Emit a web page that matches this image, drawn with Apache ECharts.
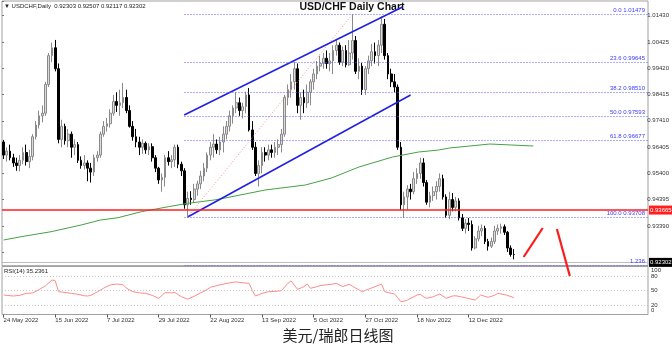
<!DOCTYPE html>
<html><head><meta charset="utf-8">
<script src="https://cdn.jsdelivr.net/npm/echarts@6/dist/echarts.min.js"></script>
<style>html,body{margin:0;padding:0;background:#fff}#c{width:672px;height:347px}</style>
</head><body><div id="c"></div>
<script>
// ---------- DATA ----------
const firstDate = '2022-05-24';
// [open, close, low, high] per trading day
const ohlc = [
[0.9660,0.9610,0.9595,0.9668],[0.9610,0.9625,0.9585,0.9640],[0.9625,0.9600,0.9590,0.9650],[0.9600,0.9580,0.9565,0.9615],
[0.9580,0.9570,0.9550,0.9600],[0.9570,0.9590,0.9548,0.9610],[0.9590,0.9620,0.9575,0.9640],[0.9620,0.9585,0.9570,0.9650],
[0.9585,0.9605,0.9560,0.9630],[0.9605,0.9680,0.9590,0.9690],[0.9680,0.9725,0.9670,0.9740],[0.9725,0.9760,0.9712,0.9780],
[0.9760,0.9770,0.9735,0.9800],[0.9770,0.9880,0.9760,0.9890],[0.9880,0.9990,0.9870,1.0000],[0.9990,1.0020,0.9965,1.0040],
[1.0020,0.9940,0.9930,1.0050],[0.9940,0.9670,0.9655,0.9960],[0.9670,0.9720,0.9640,0.9745],[0.9720,0.9665,0.9650,0.9730],
[0.9665,0.9690,0.9640,0.9710],[0.9690,0.9640,0.9600,0.9700],[0.9640,0.9650,0.9610,0.9670],[0.9650,0.9590,0.9580,0.9660],
[0.9590,0.9570,0.9558,0.9605],[0.9570,0.9580,0.9555,0.9610],[0.9580,0.9560,0.9510,0.9590],[0.9560,0.9545,0.9505,0.9580],
[0.9545,0.9600,0.9530,0.9612],[0.9600,0.9610,0.9585,0.9625],[0.9610,0.9690,0.9600,0.9700],[0.9690,0.9720,0.9680,0.9740],
[0.9720,0.9730,0.9700,0.9752],[0.9730,0.9770,0.9715,0.9785],[0.9770,0.9815,0.9760,0.9840],[0.9815,0.9800,0.9775,0.9850],
[0.9800,0.9810,0.9760,0.9860],[0.9810,0.9830,0.9790,0.9886],[0.9830,0.9780,0.9770,0.9860],[0.9780,0.9720,0.9715,0.9800],
[0.9720,0.9680,0.9665,0.9740],[0.9680,0.9660,0.9640,0.9710],[0.9660,0.9640,0.9610,0.9680],[0.9640,0.9655,0.9615,0.9670],
[0.9655,0.9630,0.9615,0.9662],[0.9630,0.9642,0.9610,0.9655],[0.9642,0.9600,0.9585,0.9655],[0.9600,0.9560,0.9545,0.9610],
[0.9560,0.9515,0.9500,0.9565],[0.9515,0.9525,0.9470,0.9540],[0.9525,0.9600,0.9490,0.9610],[0.9600,0.9585,0.9570,0.9625],
[0.9585,0.9592,0.9560,0.9610],[0.9592,0.9640,0.9565,0.9650],[0.9640,0.9575,0.9560,0.9650],[0.9575,0.9550,0.9530,0.9585],
[0.9550,0.9420,0.9405,0.9560],[0.9420,0.9445,0.93708,0.9470],[0.9445,0.9440,0.9420,0.9472],[0.9440,0.9480,0.9430,0.9500],
[0.9480,0.9500,0.9455,0.9512],[0.9500,0.9530,0.9480,0.9550],[0.9530,0.9560,0.9510,0.9580],[0.9560,0.9610,0.9545,0.9620],
[0.9610,0.9640,0.9590,0.9660],[0.9640,0.9652,0.9600,0.9690],[0.9652,0.9630,0.9615,0.9670],[0.9630,0.9660,0.9610,0.9680],
[0.9660,0.9690,0.9620,0.9720],[0.9690,0.9720,0.9670,0.9740],[0.9720,0.9760,0.9700,0.9780],[0.9760,0.9790,0.9730,0.9800],
[0.9790,0.9810,0.9770,0.9850],[0.9810,0.9780,0.9760,0.9830],[0.9780,0.9795,0.9750,0.9810],[0.9795,0.9840,0.9770,0.9852],
[0.9840,0.9706,0.9700,0.9866],[0.9706,0.9640,0.9630,0.9740],[0.9640,0.9540,0.9530,0.9660],[0.9540,0.9570,0.9490,0.9590],
[0.9570,0.9620,0.9540,0.9640],[0.9620,0.9610,0.9585,0.9640],[0.9610,0.9630,0.9590,0.9650],[0.9630,0.9620,0.9600,0.9650],
[0.9620,0.9640,0.9600,0.9660],[0.9640,0.9650,0.9610,0.9670],[0.9650,0.9690,0.9620,0.9710],[0.9690,0.9830,0.9680,0.9840],
[0.9830,0.9860,0.9800,0.9880],[0.9860,0.9890,0.9830,0.9920],[0.9890,0.9940,0.9860,0.9966],[0.9940,0.9800,0.9770,0.9960],
[0.9800,0.9830,0.9745,0.9850],[0.9830,0.9810,0.9770,0.9860],[0.9810,0.9850,0.9790,0.9880],[0.9850,0.9890,0.9800,0.9900],
[0.9890,0.9920,0.9860,0.9940],[0.9920,0.9950,0.9900,0.9970],[0.9950,0.9960,0.9930,0.9990],[0.9960,0.9980,0.9940,1.0000],
[0.9980,0.9960,0.9940,1.0010],[0.9960,0.9970,0.9930,1.0000],[0.9970,1.0010,0.9920,1.0030],[1.0010,1.0030,0.9990,1.0050],
[1.0030,0.9965,0.9955,1.0040],[0.9965,1.0010,0.9950,1.0025],[1.0010,0.9955,0.9945,1.0030],[0.9955,1.0000,0.9950,1.0050],
[1.0000,1.0048,0.9975,1.01479],[1.0048,0.9930,0.9920,1.0065],[0.9930,0.9950,0.9900,0.9980],[0.9950,0.9860,0.9840,0.9962],
[0.9860,0.9940,0.9840,0.9950],[0.9940,0.9970,0.9920,0.9990],[0.9970,1.0005,0.9950,1.0035],[1.0005,0.9990,0.9960,1.0040],
[0.9990,1.0030,0.9950,1.0050],[1.0030,1.0110,1.0000,1.0140],[1.0110,0.9990,0.9975,1.0130],[0.9990,0.9920,0.9900,1.0000],
[0.9920,0.9890,0.9870,0.9940],[0.9890,0.9870,0.9850,0.9920],[0.9870,0.9640,0.9630,0.9880],[0.9640,0.9420,0.9400,0.9660],
[0.9420,0.9450,0.9370,0.9470],[0.9450,0.9480,0.9400,0.9495],[0.9480,0.9470,0.9440,0.9500],[0.9470,0.9520,0.9460,0.9545],
[0.9520,0.9540,0.9500,0.9560],[0.9540,0.9580,0.9520,0.9600],[0.9580,0.9505,0.9490,0.9598],[0.9505,0.9430,0.9420,0.9515],
[0.9430,0.9455,0.9410,0.9470],[0.9455,0.9470,0.9435,0.9490],[0.9470,0.9490,0.9440,0.9510],[0.9490,0.9520,0.9470,0.9540],
[0.9520,0.9450,0.9440,0.9535],[0.9450,0.9380,0.9370,0.9460],[0.9380,0.9440,0.9365,0.9470],[0.9440,0.9410,0.9395,0.9465],
[0.9410,0.9435,0.9395,0.9450],[0.9435,0.9370,0.9360,0.9445],[0.9370,0.9330,0.9320,0.9385],[0.9330,0.9350,0.9310,0.9365],
[0.9350,0.9345,0.9320,0.9370],[0.9345,0.9255,0.9245,0.9360],[0.9255,0.9290,0.9250,0.9300],[0.9290,0.9320,0.9280,0.9340],
[0.9320,0.9330,0.9300,0.9345],[0.9330,0.9280,0.9270,0.9340],[0.9280,0.9262,0.9245,0.9290],[0.9262,0.9280,0.9255,0.9295],
[0.9280,0.9320,0.9270,0.9340],[0.9320,0.9330,0.9305,0.9345],[0.9330,0.9336,0.9310,0.9348],[0.9336,0.9315,0.9305,0.9345],
[0.9315,0.9255,0.9240,0.9320],[0.9255,0.9230,0.9222,0.9265],[0.92303,0.92302,0.92117,0.92507]
];
// 200-day moving average, [bar index, value]
const maPoints = [[0,0.92855],[5.4,0.92981],[14.7,0.93172],[24,0.93428],[30,0.93619],[35.4,0.93707],[42.6,0.93936],
[51,0.94127],[57,0.94257],[65.2,0.94384],[68.6,0.94460],[81,0.94766],[93.4,0.94957],[101.5,0.95224],[110,0.95644],
[120.4,0.96027],[128.5,0.96218],[134.7,0.96294],[138,0.96370],[150.5,0.96523],[157.3,0.96485],[164,0.96447]];
// RSI(14), [bar index, value]
const rsiPoints = [[0,40.6],[3,38.5],[5,40],[7,44],[9,45],[11,52],[13,60],[15,72],[16,70],[17,47.5],[19,46],[21,44],
[23,42],[25,39],[26,38.5],[27,40],[29,47],[31,55],[33,61.5],[35,63.5],[37,62],[38,55],[40,47.5],[42,45],[44,44],[46,40],
[48,33.7],[50,45.5],[52,45],[53,46],[55,37],[57,32],[59,38],[61,45],[63,52],[64,56.5],[67,62],[70,66],[72,68],[74,66],
[76,65],[77,50],[78,38.5],[80,44],[82,47.5],[84,48],[86,49.6],[88,65],[89,70],[91,52.5],[93,58],[94,63.5],[95,54.6],
[97,58],[98,60],[100,62],[102,63.5],[103,65],[105,58],[107,63],[108,59],[109,55],[111,47.5],[113,53],[115,58],
[117,63.5],[118,47.5],[120,44],[121,43],[122,35],[123,26.7],[124,28],[125,30],[127,37],[128,40.6],[129,42],[130,37],
[131,33.7],[133,37],[135,42.7],[137,33.7],[139,38.5],[140,39],[141.5,37],[143.7,33.7],[146,30],[147.7,40.6],[150,35.8],
[152,40],[153,44],[155.6,40.6],[158,35.24]];
const rsiLevels = [20, 50, 80];
const rsiTickLabels = [0, 20, 50, 80, 100];
const fibNames = ['0.0','23.6','38.2','50.0','61.8','100.0','1.236'];
const fibValues = [1.01479, 0.99645, 0.98510, 0.97593, 0.96677, 0.93708, 0.91874];
const fibLow = [56.8, 0.93708];
const fibHigh = [108, 1.01479];
const upperChannel = [[55.9, 0.97632], [123.5, 1.01758]];
const lowerChannel = [[57.1, 0.93745], [126, 0.98396]];
const arrowUp = [[161, 0.92205], [166.9, 0.93314]];
const arrowDown = [[171.3, 0.93275], [175.3, 0.91479]];
const supportLevel = 0.93665;
const lastPrice = 0.92302;
const priceTickStart = 0.92385, priceTickStep = 0.01005;
const dateLabelEvery = 16, lastDateLabel = 144;

// ---------- BUILD ----------
const N = 200;
const PMIN = 0.91874, PMAX = 1.01988, PXU = 2617;
const MONTHS = ['Jan','Feb','Mar','Apr','May','Jun','Jul','Aug','Sep','Oct','Nov','Dec'];
const cats = [];
let d = new Date(firstDate + 'T00:00:00Z');
while (cats.length < ohlc.length) {
  const wd = d.getUTCDay();
  if (wd !== 0 && wd !== 6) cats.push(d.getUTCDate() + ' ' + MONTHS[d.getUTCMonth()] + ' ' + d.getUTCFullYear());
  d = new Date(d.getTime() + 86400000);
}
while (cats.length < N) cats.push('');
const showDate = (i) => i % dateLabelEvery === 0 && i <= lastDateLabel;
const small = 'Liberation Sans';

const chart = echarts.init(document.getElementById('c'), null, {renderer: 'canvas'});
chart.setOption({
  animation: false,
  grid: [
    {left: 2, right: 24, top: 1, height: (PMAX - PMIN) * PXU, show: true, borderColor: '#a0a0a0', borderWidth: 1},
    {left: 2, right: 24, top: 266.5, height: 48, show: true, borderColor: '#a0a0a0', borderWidth: 1},
    {left: 2, right: 24, top: 1, height: (PMAX - priceTickStart) * PXU, show: false}
  ],
  xAxis: [
    {type: 'category', gridIndex: 0, data: cats, show: false},
    {type: 'category', gridIndex: 1, data: cats, boundaryGap: true,
     axisLine: {show: false},
     axisTick: {show: true, alignWithLabel: true, interval: (i) => showDate(i), length: 3, lineStyle: {color: '#555'}},
     axisLabel: {interval: (i) => showDate(i), align: 'left', fontSize: 6, color: '#333', margin: 3, fontFamily: small}},
    {type: 'value', gridIndex: 0, min: -0.5, max: N - 0.5, show: false},
    {type: 'value', gridIndex: 1, min: -0.5, max: N - 0.5, show: false},
    {type: 'value', gridIndex: 2, min: 0, max: 1, show: false}
  ],
  yAxis: [
    {type: 'value', gridIndex: 0, min: PMIN, max: PMAX, position: 'right', axisLine: {show: false}, axisTick: {show: false}, axisLabel: {show: false}, splitLine: {show: false}},
    {type: 'value', gridIndex: 1, min: 0, max: 100, interval: 10, position: 'right',
     axisLine: {show: false}, axisTick: {show: false}, splitLine: {show: false},
     axisLabel: {fontSize: 6, color: '#333', margin: 3, fontFamily: small,
       formatter: (v) => rsiTickLabels.indexOf(v) < 0 ? '' : (v === 100 ? '{t|100}' : v === 0 ? '{b|0}' : String(v)),
       rich: {t: {fontSize: 6, padding: [8, 0, 0, 0]}, b: {fontSize: 6, padding: [0, 0, 8, 0]}}}},
    {type: 'value', gridIndex: 2, min: priceTickStart, max: PMAX, interval: priceTickStep, position: 'right',
     axisLine: {show: false}, splitLine: {show: false},
     axisTick: {show: true, length: 2, lineStyle: {color: '#777'}},
     axisLabel: {fontSize: 6, color: '#333', margin: 3, fontFamily: small,
       formatter: (v) => {
         const k = (v - priceTickStart) / priceTickStep;
         if (Math.abs(k - Math.round(k)) > 0.01 || k < 0.5) return '';
         return v.toFixed(5);
       }}}
  ],
  series: [
    {type: 'line', xAxisIndex: 4, yAxisIndex: 2, data: [], silent: true},
    {type: 'candlestick', xAxisIndex: 0, yAxisIndex: 0, data: ohlc, barWidth: 2.2,
     itemStyle: {color: '#dcdcdc', color0: '#000000', borderColor: '#8a8a8a', borderColor0: '#000000', borderWidth: 1}},
    {type: 'line', xAxisIndex: 2, yAxisIndex: 0, data: maPoints, symbol: 'none', lineStyle: {color: '#45a045', width: 1}, z: 3},
    {type: 'line', xAxisIndex: 2, yAxisIndex: 0, data: [fibLow, fibHigh], symbol: 'none',
     lineStyle: {color: '#ff8c8c', width: 1, type: [1, 2]}, z: 3,
     markLine: {silent: true, symbol: ['none', 'none'],
       lineStyle: {color: '#5c5cff', width: 1, type: [1, 2]},
       label: {show: true, position: 'insideEndTop', distance: [3, 1], fontSize: 6, color: '#3b3bff', fontFamily: small, formatter: (p) => p.name},
       data: fibValues.map((v, i) => [{coord: [fibLow[0] - 0.8, v], name: fibNames[i] === '1.236' ? '1.236' : fibNames[i] + ' ' + v.toFixed(5)}, {coord: [N - 0.5, v]}])}},
    {type: 'line', xAxisIndex: 2, yAxisIndex: 0, data: upperChannel, symbol: 'none', lineStyle: {color: '#1f1fe6', width: 1.5}, z: 4},
    {type: 'line', xAxisIndex: 2, yAxisIndex: 0, data: lowerChannel, symbol: 'none', lineStyle: {color: '#1f1fe6', width: 1.5}, z: 4},
    {type: 'line', xAxisIndex: 2, yAxisIndex: 0, data: [], symbol: 'none', z: 5,
     markLine: {silent: true, symbol: ['none', 'none'],
       data: [
         {yAxis: lastPrice, lineStyle: {color: '#bdbdbd', width: 1, type: 'solid'},
          label: {show: true, position: 'end', distance: 1, formatter: lastPrice.toFixed(5), color: '#fff', backgroundColor: '#000', padding: [2, 1, 1, 1], fontSize: 6, fontFamily: small}},
         {yAxis: supportLevel, lineStyle: {color: '#ff1f1f', width: 1.6, type: 'solid'},
          label: {show: true, position: 'end', distance: 1, formatter: supportLevel.toFixed(5), color: '#fff', backgroundColor: '#ff1f1f', padding: [2, 1, 1, 1], fontSize: 6, fontFamily: small}}
       ]}},
    {type: 'line', xAxisIndex: 2, yAxisIndex: 0, data: arrowUp, symbol: 'none', clip: false, lineStyle: {color: '#ff1a1a', width: 2.2}, z: 6},
    {type: 'line', xAxisIndex: 2, yAxisIndex: 0, data: arrowDown, symbol: 'none', clip: false, lineStyle: {color: '#ff1a1a', width: 2.2}, z: 6},
    {type: 'line', xAxisIndex: 3, yAxisIndex: 1, data: rsiPoints, symbol: 'none', lineStyle: {color: '#ff8a8a', width: 1},
     markLine: {silent: true, symbol: ['none', 'none'], label: {show: false},
       lineStyle: {color: '#c8c8c8', width: 1, type: [1, 2]},
       data: rsiLevels.map((v) => ({yAxis: v}))}}
  ],
  graphic: [
    {type: 'text', x: 4, y: 6, style: {text: '\u25BC USDCHF,Daily  0.92303 0.92507 0.92117 0.92302', font: '6px "Liberation Sans"', fill: '#222', verticalAlign: 'middle'}},
    {type: 'text', x: 352, y: 7, style: {text: 'USD/CHF Daily Chart', font: 'bold 10.5px "Liberation Sans"', fill: '#111', align: 'center', verticalAlign: 'middle'}},
    {type: 'text', x: 4, y: 271, style: {text: 'RSI(14) 35.2361', font: '6px "Liberation Sans"', fill: '#222', verticalAlign: 'middle'}},
    {type: 'text', x: 338, y: 335, style: {text: '美元/瑞郎日线图', font: '15px "Noto Sans CJK SC"', fill: '#222', align: 'center', verticalAlign: 'middle'}}
  ]
});
</script>
</body></html>
